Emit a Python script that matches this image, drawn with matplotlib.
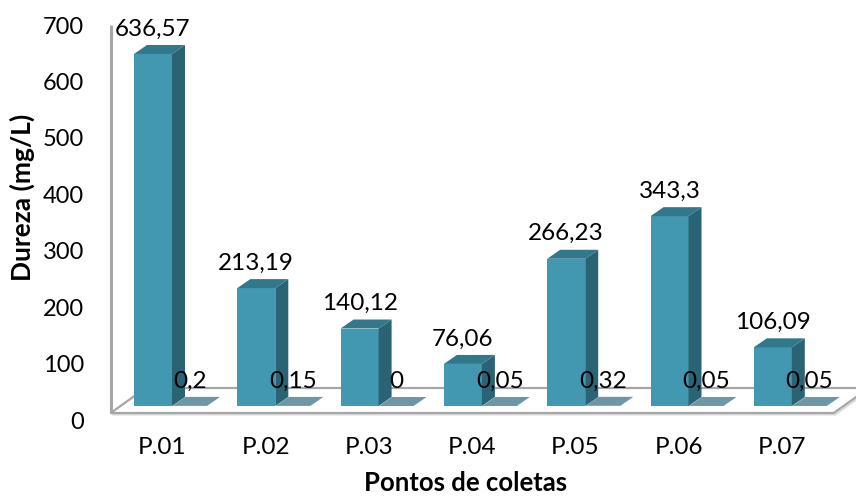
import matplotlib.pyplot as plt
from matplotlib.patches import Polygon, Rectangle

# Dados
pontos = ['P.01', 'P.02', 'P.03', 'P.04', 'P.05', 'P.06', 'P.07']
dureza = [636.57, 213.19, 140.12, 76.06, 266.23, 343.3, 106.09]
segunda = [0.2, 0.15, 0, 0.05, 0.32, 0.05, 0.05]
ticks_y = [0, 100, 200, 300, 400, 500, 600, 700]

# Cores das faces (frente, lado, topo) e da segunda série
frente = '#4298b0'
lado = '#2a6373'
topo = '#31788b'
plano = '#6e97a5'
cinza = '#a6a6a6'

plt.rcParams['font.family'] = ['Lato', 'DejaVu Sans']

W, H = 856, 498
fig = plt.figure(figsize=(W / 100, H / 100), dpi=100)

# escala em pixels: 103.3 px por categoria, 0.553 px por unidade de dureza
PX_CAT = 103.3
PX_VAL = 0.553
X0, Y0 = 162.3, 406  # pixel da categoria 0 e do valor 0
left, right, top, bottom = 100, 856, 10, 420

ax = fig.add_axes([left / W, (H - bottom) / H, (right - left) / W, (bottom - top) / H])
ax.set_xlim((left - X0) / PX_CAT, (right - X0) / PX_CAT)
ax.set_ylim((Y0 - bottom) / PX_VAL, (Y0 - top) / PX_VAL)
ax.patch.set_visible(False)
for s in ax.spines.values():
    s.set_visible(False)
ax.set_yticks([])


def dx(p):
    return p / PX_CAT


def dy(p):
    return p / PX_VAL


prof_x, prof_y = dx(13), dy(9)  # profundidade das barras

# Piso
yf = -dy(7)
px_, py_ = dx(35), dy(25)
piso = [(-0.5, yf), (6.5, yf), (6.5 + px_, yf + py_), (-0.5 + px_, yf + py_)]
sombra = [(x + dx(1.5), y - dy(1.5)) for x, y in piso]
ax.add_patch(Polygon(sombra, closed=True, facecolor='none', edgecolor='#dcdcdc',
                     lw=1.5, zorder=1, clip_on=False))
ax.add_patch(Polygon(piso, closed=True, facecolor='white', edgecolor=cinza,
                     lw=1.6, zorder=1.1, clip_on=False))
# Parede lateral
ax.plot([-0.5, -0.5], [yf, dy(Y0 - 25)], color=cinza, lw=2.2, zorder=2,
        solid_capstyle='butt', clip_on=False)


def barra3d(x0, w, v, c_frente, c_lado, c_topo, z):
    ax.add_patch(Rectangle((x0, 0), w, v, facecolor=c_frente, edgecolor='none', zorder=z))
    ax.add_patch(Polygon([(x0 + w, 0), (x0 + w + prof_x, prof_y),
                          (x0 + w + prof_x, v + prof_y), (x0 + w, v)],
                         closed=True, facecolor=c_lado, edgecolor='none', zorder=z))
    ax.add_patch(Polygon([(x0, v), (x0 + w, v), (x0 + w + prof_x, v + prof_y),
                          (x0 + prof_x, v + prof_y)],
                         closed=True, facecolor=c_topo, edgecolor='none', zorder=z))


def rotulo(v):
    return f'{v:g}'.replace('.', ',')


for i, (v1, v2) in enumerate(zip(dureza, segunda)):
    xa = i - dx(28.3)
    wa = dx(38)
    xb = i + dx(10.2)
    wb = dx(34.5)
    barra3d(xb, wb, v2, plano, plano, plano, 3)
    barra3d(xa, wa, v1, frente, lado, topo, 4)
    ax.annotate(rotulo(v1), (xa + wa / 2, v1), xytext=(0, 13.3), textcoords='offset points',
                ha='center', va='baseline', fontsize=17.5, zorder=6)
    ax.annotate(rotulo(v2), (xb + wb / 2, v2), xytext=(0, 13.3), textcoords='offset points',
                ha='center', va='baseline', fontsize=17.5, zorder=6)

ax.set_xticks(range(len(pontos)), pontos, fontsize=17.5)
ax.tick_params(axis='x', length=0, pad=12.5)

# Eixo dos valores
ay = fig.add_axes([110 / W, (H - 420) / H, 1 / W, (420 - 25) / H])
ay.set_ylim(0, 700)
ay.set_yticks(ticks_y)
ay.tick_params(axis='y', length=0, pad=18.7, labelsize=17)
ay.set_xticks([])
ay.patch.set_visible(False)
for s in ay.spines.values():
    s.set_visible(False)

fig.text(22 / W, 1 - 197 / H, 'Dureza (mg/L)', rotation=90, ha='center', va='center',
         fontsize=19, fontweight='bold')
fig.text(466 / W, (H - 491) / H, 'Pontos de coletas', ha='center', va='baseline',
         fontsize=18.5, fontweight='bold')

fig.savefig('out.png', dpi=100)
